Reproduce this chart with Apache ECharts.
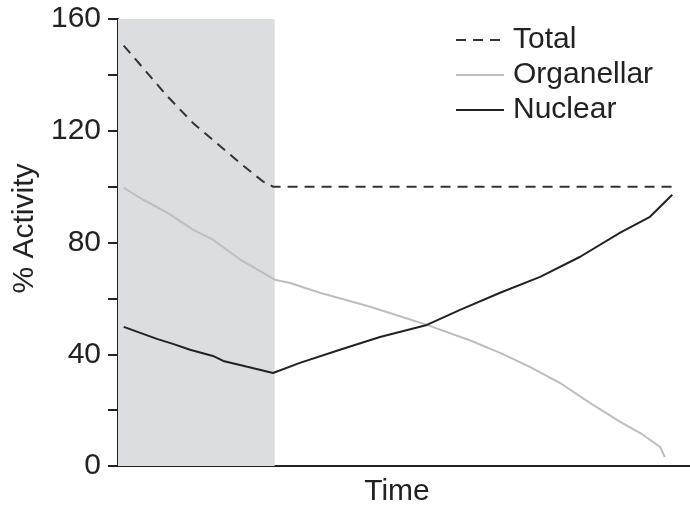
<!DOCTYPE html>
<html>
<head>
<meta charset="utf-8">
<script src="https://cdn.jsdelivr.net/npm/echarts@6/dist/echarts.min.js"></script>
<style>
  html, body { margin: 0; padding: 0; background: #fff; }
  #chart { width: 690px; height: 508px; }
</style>
</head>
<body>
<div id="chart"></div>
<script>
// time in arbitrary units (0..100), activity in %
var totalData = [[1, 150.5], [8.6, 132.4], [13.1, 122.8], [21.3, 108.5], [25.3, 101.9], [27.1, 100], [96.9, 100]];
var organellarData = [
  [1, 99.6], [4.4, 95.3], [8.6, 90.7], [13.1, 84.6], [16.6, 81], [21.3, 74], [27.4, 66.7],
  [30.1, 65.5], [35.3, 62], [44.1, 57], [54.0, 50.5], [61.5, 45], [66.8, 40.5],
  [72.0, 35.5], [77.3, 29.7], [82.5, 22.6], [87.8, 15.8], [91.3, 11.8], [94.8, 6.8], [95.6, 3.2]
];
var nuclearData = [
  [1, 49.8], [6.8, 45.5], [9.6, 43.7], [12.6, 41.6], [16.6, 39.4], [18.4, 37.6], [22.6, 35.5],
  [27.1, 33.3], [31.8, 36.9], [38.8, 41.6], [45.8, 46.2], [54.0, 50.5], [59.8, 55.9],
  [66.8, 62], [73.8, 67.7], [80.8, 74.9], [87.8, 83.5], [93.0, 89.2], [96.9, 97.1]
];
var shadeEnd = 27.4;
var yLabels = [0, 40, 80, 120, 160];

var myChart = echarts.init(document.getElementById("chart"));

var font = "Liberation Sans, Arial, sans-serif";

var option = {
  animation: false,
  grid: {
    left: 118,
    right: 0,
    top: 19,
    bottom: 42,
    containLabel: false,
    outerBoundsMode: "none",
  },
  legend: {
    orient: "vertical",
    left: 450,
    top: 20,
    itemWidth: 48,
    itemHeight: 14,
    itemGap: 5,
    data: ["Total", "Organellar", "Nuclear"],
    itemStyle: { color: "transparent", borderWidth: 0 },
    textStyle: {
      fontFamily: font,
      fontSize: 30,
      color: "#222",
      lineHeight: 30,
      padding: [0, 0, 0, 4],
    },
  },
  xAxis: {
    type: "value",
    min: 0,
    max: 100,
    name: "Time",
    nameLocation: "middle",
    nameGap: 11,
    nameTextStyle: {
      fontFamily: font,
      fontSize: 30,
      color: "#222",
      verticalAlign: "top",
      padding: [0, 14, 0, 0],
    },
    axisLine: { lineStyle: { color: "#222", width: 2 } },
    axisTick: { show: false },
    axisLabel: { show: false },
    splitLine: { show: false },
  },
  yAxis: {
    type: "value",
    min: 0,
    max: 160,
    interval: 20,
    name: "% Activity",
    nameLocation: "middle",
    nameGap: 72,
    nameTextStyle: {
      fontFamily: font,
      fontSize: 30,
      color: "#222",
      padding: [0, 0, 0, 28],
    },
    axisLine: { show: true, lineStyle: { color: "#222", width: 2 } },
    axisTick: { show: true, length: 10, lineStyle: { color: "#222", width: 2 } },
    axisLabel: {
      fontFamily: font,
      fontSize: 30,
      color: "#222",
      margin: 17,
      formatter: function (v) {
        return yLabels.indexOf(v) >= 0 ? String(v) : "";
      },
    },
    splitLine: { show: false },
  },
  series: [
    {
      name: "Total",
      type: "line",
      data: totalData,
      symbol: "none",
      lineStyle: { color: "#333", width: 2, type: [10, 7] },
      itemStyle: { color: "#333" },
      z: 3,
      markArea: {
        silent: true,
        itemStyle: { color: "#dcdde0" },
        data: [[{ xAxis: 0 }, { xAxis: shadeEnd }]],
      },
    },
    {
      name: "Organellar",
      type: "line",
      data: organellarData,
      symbol: "none",
      lineStyle: { color: "#bdbdbd", width: 2 },
      itemStyle: { color: "#bdbdbd" },
    },
    {
      name: "Nuclear",
      type: "line",
      data: nuclearData,
      symbol: "none",
      lineStyle: { color: "#222", width: 2 },
      itemStyle: { color: "#222" },
    },
  ],
};

myChart.setOption(option);
</script>
</body>
</html>
